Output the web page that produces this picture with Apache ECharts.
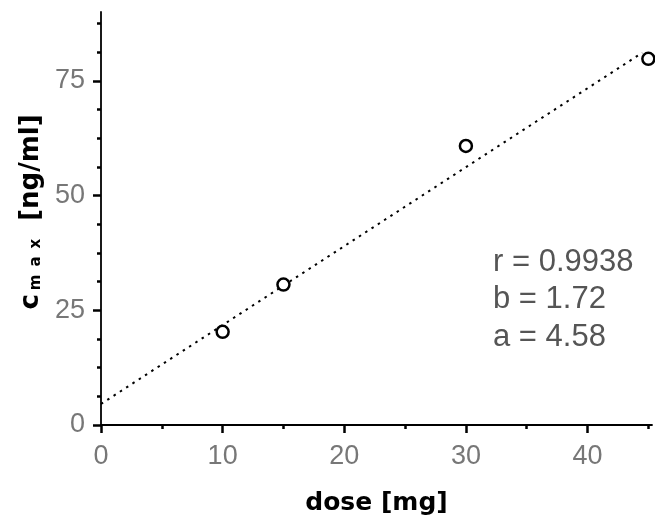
<!DOCTYPE html>
<html>
<head>
<meta charset="utf-8">
<script src="https://cdn.jsdelivr.net/npm/echarts@6/dist/echarts.min.js"></script>
<style>
  html, body { margin: 0; padding: 0; background: #fff; }
  #chart { width: 655px; height: 521px; }
</style>
</head>
<body>
<div id="chart"></div>
<script>
// measured points
var doseX = [10, 15, 30, 45];
var cmaxY = [20.3, 30.6, 60.8, 79.8];

// regression line y = a + b*x, end points
var fitX = [0, 44.5];
var fitY = [4.58, 81.12];

var xMajor = [0, 10, 20, 30, 40];
var xMinor = [5, 15, 25, 35, 45];
var yMajor = [0, 25, 50, 75];
var yMinor = [6.25, 12.5, 18.75, 31.25, 37.5, 43.75, 56.25, 62.5, 68.75, 81.25, 87.5];

var statLines = ['r = 0.9938', 'b = 1.72', 'a = 4.58'];

var chart = echarts.init(document.getElementById('chart'));

var points = doseX.map(function (x, i) { return [x, cmaxY[i]]; });
var fitLine = fitX.map(function (x, i) { return [x, fitY[i]]; });

var tickFont = { color: '#777', fontFamily: 'Liberation Sans', fontSize: 27 };

// second axis only for the short minor ticks
function minorAxis(vals, pos, max) {
    return {
        type: 'value', position: pos, min: 0, max: max,
        axisLine: { show: false },
        axisLabel: { show: false },
        splitLine: { show: false },
        axisTick: { show: true, customValues: vals, length: 4, lineStyle: { color: '#000', width: 2.5 } }
    };
}

var option = {
    animation: false,
    grid: { left: 101, right: 3, top: 12, bottom: 96, containLabel: false, outerBoundsMode: 'none' },
    xAxis: [{
        type: 'value', position: 'bottom', min: 0, max: 45.3,
        axisLine: { lineStyle: { color: '#000', width: 1.8 } },
        axisTick: { show: true, customValues: xMajor, length: 8, lineStyle: { color: '#000', width: 2.5 } },
        axisLabel: Object.assign({ customValues: xMajor, margin: 18 }, tickFont),
        splitLine: { show: false },
        name: 'dose [mg]', nameLocation: 'middle', nameGap: 66,
        nameTextStyle: { color: '#000', fontFamily: 'DejaVu Sans', fontWeight: 'bold', fontSize: 25 }
    }, minorAxis(xMinor, 'bottom', 45.3)],
    yAxis: [{
        type: 'value', position: 'left', min: 0, max: 90,
        axisLine: { show: true, lineStyle: { color: '#000', width: 1.8 } },
        axisTick: { show: true, customValues: yMajor, length: 8, lineStyle: { color: '#000', width: 2.5 } },
        axisLabel: Object.assign({ customValues: yMajor, margin: 16 }, tickFont),
        splitLine: { show: false }
    }, minorAxis(yMinor, 'left', 90)],
    graphic: [{
        type: 'text', x: 31, y: 212, rotation: Math.PI / 2,
        style: {
            text: '{c|c}{s|m}{s|a}{s|x}{u|[ng/ml]}',
            fill: '#000',
            font: 'bold 26px "DejaVu Sans"',
            align: 'center', verticalAlign: 'middle',
            rich: {
                c: { fontSize: 26, fontWeight: 'bold', fontFamily: 'DejaVu Sans' },
                s: { fontSize: 15, fontWeight: 'bold', fontFamily: 'DejaVu Sans', verticalAlign: 'bottom', padding: [0, 4, 0, 4] },
                u: { fontSize: 26, fontWeight: 'bold', fontFamily: 'DejaVu Sans', padding: [0, 0, 0, 14] }
            }
        }
    }].concat(statLines.map(function (t, i) {
        return {
            type: 'text', x: 493, y: 262 + i * 37.5,
            style: { text: t, fill: '#555', font: '31px "Liberation Sans"', align: 'left', verticalAlign: 'middle' }
        };
    })),
    series: [{
        type: 'line', xAxisIndex: 0, yAxisIndex: 0,
        data: fitLine, symbol: 'none', silent: true, z: 1,
        lineStyle: { color: '#000', width: 2, type: [2.5, 5] }
    }, {
        type: 'scatter', xAxisIndex: 0, yAxisIndex: 0,
        data: points, symbol: 'circle', symbolSize: 12, z: 3,
        itemStyle: { color: '#fff', borderColor: '#000', borderWidth: 2.5, opacity: 1 }
    }]
};

chart.setOption(option);
</script>
</body>
</html>
